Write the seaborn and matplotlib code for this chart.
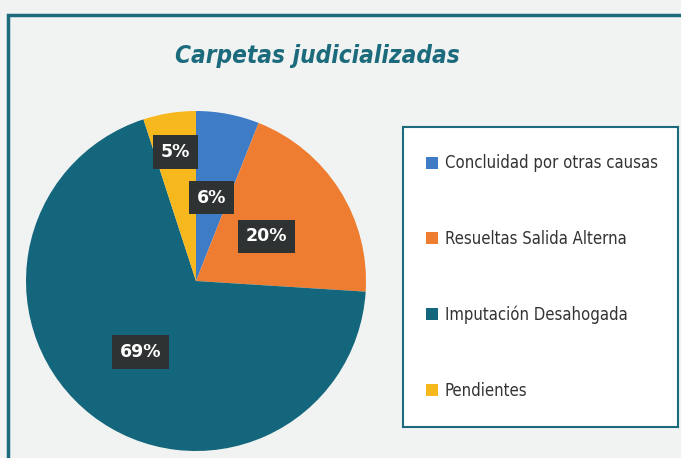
import numpy as np
import matplotlib
matplotlib.use('Agg')
import matplotlib.pyplot as plt
import seaborn as sns
from matplotlib.patches import Rectangle, Patch

sns.set_theme(style='white')

# datos
categorias = ['Concluidad por otras causas', 'Resueltas Salida Alterna',
              'Imputación Desahogada', 'Pendientes']
porcentajes = [6, 20, 69, 5]
colores = ['#3f7cc6', '#ee7d31', '#13667c', '#f6b81d']
titulo = 'Carpetas judicializadas'

fondo = '#f1f3f2'
teal = '#1b6b7d'

fig = plt.figure(figsize=(6.81, 4.58), dpi=100)
fig.patch.set_facecolor(fondo)

# marco exterior
fig.add_artist(Rectangle((8 / 681, -0.05), 1.0, (458 - 15) / 458 + 0.05,
                         transform=fig.transFigure, fill=False,
                         edgecolor=teal, linewidth=2.5))

fig.text(317 / 681, 1 - 56 / 458, titulo, ha='center', va='center',
         fontsize=17.5, fontweight='bold', fontstyle='italic', color=teal,
         family='DejaVu Sans', fontstretch='condensed')

# pastel
cx, cy, r = 196, 281, 170
ax = fig.add_axes([(cx - r) / 681, (458 - cy - r) / 458, 2 * r / 681, 2 * r / 458])
ax.set_facecolor(fondo)
wedges, _ = ax.pie(porcentajes, colors=colores, startangle=90, counterclock=False,
                   wedgeprops=dict(linewidth=0))
ax.set_xlim(-1, 1)
ax.set_ylim(-1, 1)
ax.set_aspect('equal')

# etiquetas con caja oscura
distancias = [0.5, 0.49, 0.53, 0.77]
for w, p, d in zip(wedges, porcentajes, distancias):
    ang = np.deg2rad((w.theta1 + w.theta2) / 2)
    ax.text(d * np.cos(ang), d * np.sin(ang), f'{p}%', ha='center', va='center',
            fontsize=12.5, fontweight='bold', color='white', family='DejaVu Sans',
            bbox=dict(boxstyle='square,pad=0.45', facecolor='#2e3232',
                      edgecolor='none'))

# leyenda
lax = fig.add_axes([403 / 681, 1 - 427 / 458, 275 / 681, 300 / 458])
lax.set_facecolor('white')
lax.set_xticks([])
lax.set_yticks([])
for s in lax.spines.values():
    s.set_color(teal)
    s.set_linewidth(1.5)
handles = [Patch(facecolor=c, edgecolor='none') for c in colores]
lax.legend(handles, categorias, loc='center left', frameon=False,
           prop=dict(family='DejaVu Sans', stretch='condensed', size=12),
           labelcolor='#333333',
           handlelength=0.7, handleheight=0.7, handletextpad=0.4,
           labelspacing=3.45, bbox_to_anchor=(0.03, 0.5))

fig.savefig('out.png', dpi=100, facecolor=fondo)
